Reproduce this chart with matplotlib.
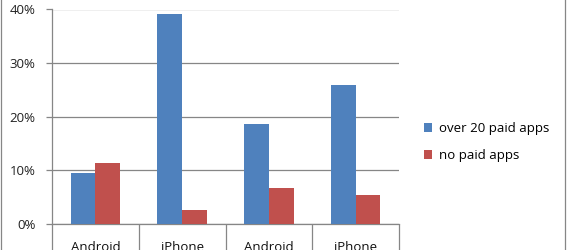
import matplotlib

matplotlib.use("Agg")
import matplotlib.pyplot as plt
import numpy as np
from matplotlib.patches import Rectangle

categories = ["Android", "iPhone", "Android", "iPhone"]
over_20_paid = [9.5, 39.2, 18.6, 25.9]
no_paid = [11.4, 2.6, 6.8, 5.5]
y_ticks = [0, 10, 20, 30, 40]

BLUE = "#4F81BD"
RED = "#C0504D"
GRID = "#868686"

plt.rcParams["font.family"] = ["Open Sans", "DejaVu Sans"]

W, H = 570, 250
fig = plt.figure(figsize=(W / 100, H / 100), dpi=100)
ax = fig.add_axes([52 / W, 1 - 224 / H, (399 - 52) / W, (224 - 9.5) / H])

x = np.arange(len(categories))
bw = 0.284
ax.bar(x - bw / 2, over_20_paid, width=bw, color=BLUE, label="over 20 paid apps", zorder=3)
ax.bar(x + bw / 2, no_paid, width=bw, color=RED, label="no paid apps", zorder=3)

ax.set_xlim(-0.5, len(categories) - 0.5)
ax.set_ylim(0, 40)
ax.set_yticks(y_ticks)
ax.set_yticklabels([f"{v}%" for v in y_ticks], fontsize=9.5, color="#222222")
ax.yaxis.grid(True, color=GRID, linewidth=0.9, zorder=0)
ax.tick_params(axis="y", length=4, width=0.9, color=GRID, pad=8)

# category boundaries as long ticks, labels on minor ticks at centres
ax.set_xticks(np.arange(len(categories) + 1) - 0.5)
ax.set_xticklabels([])
ax.tick_params(axis="x", which="major", length=22, width=0.9, color=GRID)
ax.set_xticks(x, minor=True)
ax.set_xticklabels(categories, minor=True, fontsize=9.5, color="#111111", va="top")
ax.tick_params(axis="x", which="minor", length=0, pad=12.5)

for side in ["top", "right"]:
    ax.spines[side].set_visible(False)
for side in ["left", "bottom"]:
    ax.spines[side].set_color(GRID)
    ax.spines[side].set_linewidth(0.9)

fig.legend(loc="upper left", bbox_to_anchor=(419 / W, 1 - 117 / H), frameon=False,
           fontsize=9.5, handlelength=0.6, handleheight=0.6, handletextpad=0.5,
           labelspacing=1.05, borderaxespad=0)

# outer chart border (left and right edges visible)
fig.add_artist(Rectangle((0.5 / W, -0.1), (565 - 0.5) / W, 1.3, transform=fig.transFigure,
                         fill=False, edgecolor=GRID, linewidth=0.9))

fig.savefig("out.png", dpi=100)
